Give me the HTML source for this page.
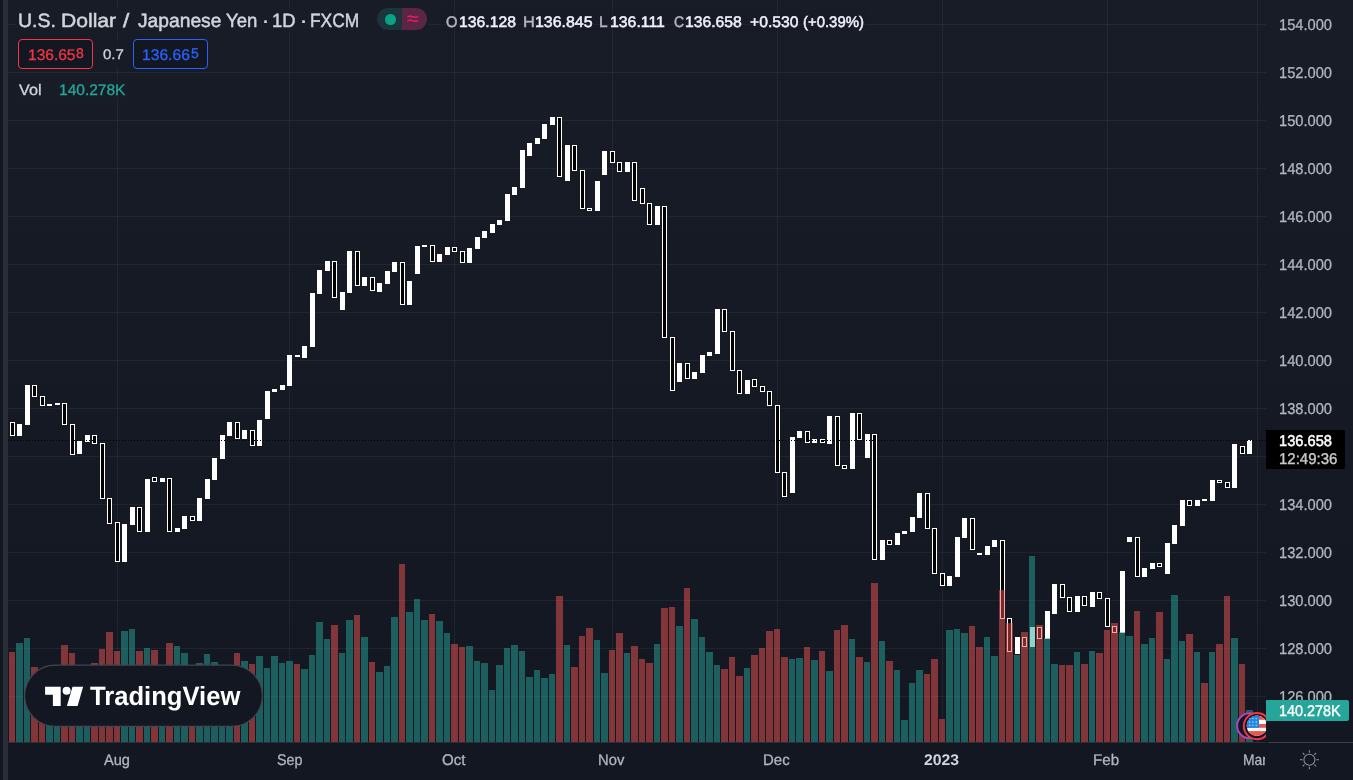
<!DOCTYPE html><html lang="en"><head><meta charset="utf-8"><title>USDJPY chart</title><style>
html,body{margin:0;padding:0;background:#131722}
body{width:1353px;height:780px;overflow:hidden;position:relative;font-family:"Liberation Sans", sans-serif}
.t{position:absolute;white-space:pre;display:block;transform-origin:0 0;text-rendering:geometricPrecision}
.abs{position:absolute}
</style></head><body>
<svg width="1353" height="780" viewBox="0 0 1353 780" shape-rendering="crispEdges" style="position:absolute;left:0;top:0">
<defs><linearGradient id="bg" x1="0" y1="0" x2="0" y2="1"><stop offset="0" stop-color="#181c27"/><stop offset="1" stop-color="#131722"/></linearGradient><clipPath id="pane"><rect x="8" y="0" width="1258" height="742"/></clipPath></defs>
<rect x="0" y="0" width="1353" height="780" fill="url(#bg)"/>
<rect x="0" y="0" width="3" height="780" fill="#131722"/>
<rect x="3" y="0" width="5" height="780" fill="#2a2e39"/>
<path d="M117.5 0V742M289.5 0V742M454.5 0V742M612.5 0V742M777.5 0V742M942.5 0V742M1107.5 0V742M1257.5 0V742" stroke="rgba(240,243,250,0.06)" stroke-width="1" fill="none"/>
<path d="M8 24.5H1266M8 72.5H1266M8 120.5H1266M8 168.5H1266M8 216.5H1266M8 264.5H1266M8 312.5H1266M8 360.5H1266M8 408.5H1266M8 456.5H1266M8 504.5H1266M8 552.5H1266M8 600.5H1266M8 648.5H1266M8 696.5H1266" stroke="rgba(240,243,250,0.06)" stroke-width="1" fill="none"/>
<path d="M10 422h5v14h-5zM17 424h5v12h-5zM25 385h5v40h-5zM32 385h5v12h-5zM40 396h5v10h-5zM47 404h5v2h-5zM55 403h5v2h-5zM62 403h5v22h-5zM70 424h5v31h-5zM77 441h5v13h-5zM85 435h5v7h-5zM92 435h5v9h-5zM100 443h5v56h-5zM107 498h5v26h-5zM115 522h5v40h-5zM122 524h5v38h-5zM130 507h5v18h-5zM137 507h5v25h-5zM145 479h5v53h-5zM152 477h5v5h-5zM160 478h5v4h-5zM167 478h5v54h-5zM175 528h5v4h-5zM182 516h5v13h-5zM190 516h5v5h-5zM197 498h5v23h-5zM205 479h5v20h-5zM212 458h5v22h-5zM220 435h5v24h-5zM227 422h5v14h-5zM235 422h5v17h-5zM242 430h5v9h-5zM250 430h5v16h-5zM257 420h5v26h-5zM265 391h5v28h-5zM272 389h5v3h-5zM280 385h5v5h-5zM287 355h5v31h-5zM295 355h5v2h-5zM302 346h5v12h-5zM310 293h5v54h-5zM317 270h5v24h-5zM325 261h5v10h-5zM332 261h5v37h-5zM340 292h5v18h-5zM347 251h5v42h-5zM355 251h5v35h-5zM362 277h5v9h-5zM370 277h5v14h-5zM377 283h5v9h-5zM385 271h5v13h-5zM392 262h5v10h-5zM400 262h5v43h-5zM407 281h5v24h-5zM415 246h5v28h-5zM422 245h5v2h-5zM430 245h5v17h-5zM437 254h5v8h-5zM445 247h5v8h-5zM452 247h5v5h-5zM460 251h5v12h-5zM467 248h5v15h-5zM475 237h5v12h-5zM482 231h5v7h-5zM490 224h5v9h-5zM497 220h5v5h-5zM505 194h5v27h-5zM512 187h5v8h-5zM520 150h5v38h-5zM527 143h5v13h-5zM535 138h5v6h-5zM542 124h5v15h-5zM550 117h5v8h-5zM557 117h5v60h-5zM565 145h5v36h-5zM572 145h5v26h-5zM580 170h5v39h-5zM587 208h5v3h-5zM595 181h5v30h-5zM602 151h5v24h-5zM610 151h5v12h-5zM617 162h5v10h-5zM625 162h5v10h-5zM632 162h5v39h-5zM640 188h5v16h-5zM647 203h5v22h-5zM655 206h5v19h-5zM662 206h5v132h-5zM670 337h5v54h-5zM677 363h5v19h-5zM685 363h5v16h-5zM692 372h5v7h-5zM700 355h5v18h-5zM707 352h5v4h-5zM715 309h5v45h-5zM722 309h5v23h-5zM730 331h5v40h-5zM737 370h5v24h-5zM745 380h5v14h-5zM752 379h5v8h-5zM760 386h5v6h-5zM767 391h5v15h-5zM775 405h5v68h-5zM782 472h5v25h-5zM790 437h5v56h-5zM797 431h5v7h-5zM805 431h5v12h-5zM812 439h5v4h-5zM820 439h5v4h-5zM827 416h5v28h-5zM835 416h5v50h-5zM842 465h5v4h-5zM850 413h5v56h-5zM857 413h5v27h-5zM865 434h5v24h-5zM872 434h5v126h-5zM880 540h5v20h-5zM887 540h5v5h-5zM895 533h5v12h-5zM902 531h5v3h-5zM910 517h5v15h-5zM917 493h5v25h-5zM925 493h5v36h-5zM932 528h5v46h-5zM940 573h5v13h-5zM947 576h5v10h-5zM955 537h5v40h-5zM962 518h5v20h-5zM970 518h5v32h-5zM977 553h5v2h-5zM985 546h5v9h-5zM992 540h5v7h-5zM1000 540h5v79h-5zM1007 618h5v34h-5zM1015 637h5v17h-5zM1022 637h5v10h-5zM1030 627h5v20h-5zM1037 627h5v12h-5zM1045 611h5v28h-5zM1052 584h5v30h-5zM1060 584h5v14h-5zM1067 597h5v15h-5zM1075 596h5v16h-5zM1082 596h5v10h-5zM1090 592h5v15h-5zM1097 592h5v7h-5zM1105 598h5v29h-5zM1112 626h5v7h-5zM1120 571h5v62h-5zM1127 537h5v5h-5zM1135 537h5v40h-5zM1142 568h5v9h-5zM1150 563h5v6h-5zM1157 563h5v4h-5zM1165 543h5v31h-5zM1172 525h5v19h-5zM1180 500h5v26h-5zM1187 500h5v6h-5zM1195 500h5v6h-5zM1202 499h5v2h-5zM1210 480h5v21h-5zM1217 480h5v3h-5zM1225 482h5v6h-5zM1232 444h5v44h-5zM1240 446h5v8h-5zM1247 440h5v14h-5z" fill="#fff"/>
<path d="M11 423h3v12h-3zM33 386h3v10h-3zM41 397h3v8h-3zM63 404h3v20h-3zM71 425h3v29h-3zM93 436h3v7h-3zM101 444h3v54h-3zM108 499h3v24h-3zM116 523h3v38h-3zM138 508h3v23h-3zM153 478h3v3h-3zM168 479h3v52h-3zM191 517h3v3h-3zM236 423h3v15h-3zM251 431h3v14h-3zM333 262h3v35h-3zM356 252h3v33h-3zM371 278h3v12h-3zM401 263h3v41h-3zM431 246h3v15h-3zM453 248h3v3h-3zM461 252h3v10h-3zM558 118h3v58h-3zM573 146h3v24h-3zM581 171h3v37h-3zM588 209h3v1h-3zM611 152h3v10h-3zM618 163h3v8h-3zM633 163h3v37h-3zM641 189h3v14h-3zM648 204h3v20h-3zM663 207h3v130h-3zM671 338h3v52h-3zM686 364h3v14h-3zM723 310h3v21h-3zM731 332h3v38h-3zM738 371h3v22h-3zM753 380h3v6h-3zM761 387h3v4h-3zM768 392h3v13h-3zM776 406h3v66h-3zM783 473h3v23h-3zM806 432h3v10h-3zM821 440h3v2h-3zM836 417h3v48h-3zM843 466h3v2h-3zM858 414h3v25h-3zM873 435h3v124h-3zM888 541h3v3h-3zM926 494h3v34h-3zM933 529h3v44h-3zM941 574h3v11h-3zM971 519h3v30h-3zM1001 541h3v77h-3zM1008 619h3v32h-3zM1023 638h3v8h-3zM1038 628h3v10h-3zM1061 585h3v12h-3zM1068 598h3v13h-3zM1083 597h3v8h-3zM1098 593h3v5h-3zM1106 599h3v27h-3zM1113 627h3v5h-3zM1136 538h3v38h-3zM1158 564h3v2h-3zM1188 501h3v4h-3zM1218 481h3v1h-3zM1226 483h3v4h-3zM1241 447h3v6h-3z" fill="#000"/>
<g clip-path="url(#pane)"><path d="M16 643h7V742h-7zM24 638h6V742h-6zM46 676h7V742h-7zM54 674h6V742h-6zM76 670h7V742h-7zM84 672h6V742h-6zM121 631h7V742h-7zM129 629h6V742h-6zM144 648h6V742h-6zM159 668h6V742h-6zM174 646h6V742h-6zM181 653h7V742h-7zM196 663h7V742h-7zM204 654h6V742h-6zM211 662h7V742h-7zM219 668h6V742h-6zM226 670h7V742h-7zM241 661h7V742h-7zM256 656h7V742h-7zM264 668h6V742h-6zM271 656h7V742h-7zM279 663h6V742h-6zM286 661h7V742h-7zM301 669h7V742h-7zM309 655h6V742h-6zM316 622h7V742h-7zM324 639h6V742h-6zM339 653h6V742h-6zM346 620h7V742h-7zM361 637h7V742h-7zM376 672h7V742h-7zM384 666h6V742h-6zM391 617h7V742h-7zM406 612h7V742h-7zM414 599h6V742h-6zM421 620h7V742h-7zM436 621h7V742h-7zM444 633h6V742h-6zM466 646h7V742h-7zM474 661h6V742h-6zM481 663h7V742h-7zM489 690h6V742h-6zM496 665h7V742h-7zM504 648h6V742h-6zM511 645h7V742h-7zM519 651h6V742h-6zM526 677h7V742h-7zM534 670h6V742h-6zM541 678h7V742h-7zM549 674h6V742h-6zM564 645h6V742h-6zM594 640h6V742h-6zM601 673h7V742h-7zM624 653h6V742h-6zM654 644h6V742h-6zM676 626h7V742h-7zM691 619h7V742h-7zM699 637h6V742h-6zM706 652h7V742h-7zM714 665h6V742h-6zM744 668h6V742h-6zM789 659h6V742h-6zM796 658h7V742h-7zM811 660h7V742h-7zM826 671h7V742h-7zM849 639h6V742h-6zM864 662h6V742h-6zM879 641h6V742h-6zM894 670h6V742h-6zM901 720h7V742h-7zM909 683h6V742h-6zM916 670h7V742h-7zM946 630h7V742h-7zM954 629h6V742h-6zM961 633h7V742h-7zM984 637h6V742h-6zM991 656h7V742h-7zM1014 655h6V742h-6zM1029 556h6V742h-6zM1044 638h6V742h-6zM1051 664h7V742h-7zM1074 652h6V742h-6zM1089 651h6V742h-6zM1119 632h6V742h-6zM1126 636h7V742h-7zM1141 644h7V742h-7zM1149 638h6V742h-6zM1164 659h6V742h-6zM1171 595h7V742h-7zM1179 641h6V742h-6zM1194 652h6V742h-6zM1209 652h6V742h-6zM1231 638h7V742h-7zM1246 710h7V742h-7z" fill="#26a69a" fill-opacity="0.5"/>
<path d="M9 652h6V742h-6zM31 667h7V742h-7zM39 672h6V742h-6zM61 645h7V742h-7zM69 653h6V742h-6zM91 663h7V742h-7zM99 649h6V742h-6zM106 632h7V742h-7zM114 651h6V742h-6zM136 651h7V742h-7zM151 650h7V742h-7zM166 643h7V742h-7zM189 666h6V742h-6zM234 653h6V742h-6zM249 664h6V742h-6zM294 664h6V742h-6zM331 625h7V742h-7zM354 615h6V742h-6zM369 662h6V742h-6zM399 564h6V742h-6zM429 614h6V742h-6zM451 644h7V742h-7zM459 647h6V742h-6zM556 596h7V742h-7zM571 667h7V742h-7zM579 636h6V742h-6zM586 628h7V742h-7zM609 650h6V742h-6zM616 633h7V742h-7zM631 646h7V742h-7zM639 659h6V742h-6zM646 663h7V742h-7zM661 608h7V742h-7zM669 607h6V742h-6zM684 588h6V742h-6zM721 669h7V742h-7zM729 657h6V742h-6zM736 676h7V742h-7zM751 655h7V742h-7zM759 648h6V742h-6zM766 631h7V742h-7zM774 629h6V742h-6zM781 657h7V742h-7zM804 647h6V742h-6zM819 651h6V742h-6zM834 630h6V742h-6zM841 625h7V742h-7zM856 657h7V742h-7zM871 583h7V742h-7zM886 661h7V742h-7zM924 674h6V742h-6zM931 659h7V742h-7zM939 719h6V742h-6zM969 626h6V742h-6zM976 647h7V742h-7zM999 590h6V742h-6zM1006 623h7V742h-7zM1021 632h7V742h-7zM1036 625h7V742h-7zM1059 665h6V742h-6zM1066 665h7V742h-7zM1081 664h7V742h-7zM1096 653h7V742h-7zM1104 630h6V742h-6zM1111 623h7V742h-7zM1134 611h6V742h-6zM1156 612h7V742h-7zM1186 634h7V742h-7zM1201 683h7V742h-7zM1216 644h7V742h-7zM1224 596h6V742h-6zM1239 664h6V742h-6z" fill="#ef5350" fill-opacity="0.5"/></g>
<path d="M8 440.5H1266" stroke="#000" stroke-width="1" stroke-dasharray="1 2" fill="none"/>
<path d="M8 742.5H1266" stroke="#2a2e39" stroke-width="1" fill="none"/>
<path d="M1268 742.5H1353" stroke="#3c3f4a" stroke-width="1" fill="none"/>
</svg>
<div class="abs s" style="left:16px;top:8px;width:412px;height:24px;background:rgba(24,28,39,0.85)"></div>
<div class="abs s" style="left:440px;top:10px;width:428px;height:21px;background:rgba(24,28,39,0.4)"></div>
<div class="abs s" style="left:16px;top:39px;width:192px;height:30px;background:rgba(24,28,39,0.8)"></div>
<div class="abs s" style="left:16px;top:78px;width:112px;height:22px;background:rgba(24,28,39,0.7)"></div>
<span class="t" id="t1" style="left:18.29px;top:8.81px;font-size:19.3px;line-height:26px;color:#d1d4dc;transform:scale(1.0119,1);transform-origin:0 19.69px;-webkit-text-stroke:0.5px #d1d4dc;">U.S.</span>
<span class="t" id="t2" style="left:61.12px;top:8.81px;font-size:19.3px;line-height:26px;color:#d1d4dc;transform:scale(1.0934,1);transform-origin:0 19.69px;-webkit-text-stroke:0.5px #d1d4dc;">Dollar</span>
<span class="t" id="t3" style="left:123.18px;top:8.81px;font-size:19.3px;line-height:26px;color:#d1d4dc;transform:scale(1.1725,1);transform-origin:0 19.69px;-webkit-text-stroke:0.5px #d1d4dc;">/</span>
<span class="t" id="t4" style="left:137.58px;top:8.81px;font-size:19.3px;line-height:26px;color:#d1d4dc;transform:scale(0.9979,1);transform-origin:0 19.69px;-webkit-text-stroke:0.5px #d1d4dc;">Japanese</span>
<span class="t" id="t5" style="left:226.09px;top:8.81px;font-size:19.3px;line-height:26px;color:#d1d4dc;transform:scale(0.9630,1);transform-origin:0 19.69px;-webkit-text-stroke:0.5px #d1d4dc;">Yen</span>
<span class="t" id="t6" style="left:262.19px;top:8.81px;font-size:19.3px;line-height:26px;color:#d1d4dc;transform:scale(1.0970,1);transform-origin:0 19.69px;-webkit-text-stroke:0.5px #d1d4dc;">·</span>
<span class="t" id="t7" style="left:271.93px;top:8.81px;font-size:19.3px;line-height:26px;color:#d1d4dc;transform:scale(0.9574,1);transform-origin:0 19.69px;-webkit-text-stroke:0.5px #d1d4dc;">1D</span>
<span class="t" id="t8" style="left:300.07px;top:8.81px;font-size:19.3px;line-height:26px;color:#d1d4dc;transform:scale(1.0975,1);transform-origin:0 19.69px;-webkit-text-stroke:0.5px #d1d4dc;">·</span>
<span class="t" id="t9" style="left:309.71px;top:8.81px;font-size:19.3px;line-height:26px;color:#d1d4dc;transform:scale(0.9007,1);transform-origin:0 19.69px;-webkit-text-stroke:0.5px #d1d4dc;">FXCM</span>
<div class="abs s" style="left:377px;top:8px;width:50px;height:22px;border-radius:11px;overflow:hidden"><div class="abs" style="left:0;top:0;width:25px;height:22px;background:#1c343b"></div><div class="abs" style="left:25px;top:0;width:25px;height:22px;background:#5a2643"></div><div class="abs" style="left:8px;top:6px;width:10.6px;height:10.6px;border-radius:50%;background:#08a384"></div></div>
<span class="t" id="approx" style="left:407.34px;top:6.72px;font-size:19px;line-height:25px;color:#e91e63;transform:scale(1.1213,1);transform-origin:0 19.08px;-webkit-text-stroke:0.2px #e91e63;">≈</span>
<span class="t" id="o1" style="left:446.10px;top:13.10px;font-size:15.3px;line-height:20px;color:#b2b5be;transform:scale(0.9620,1);transform-origin:0 15.30px;-webkit-text-stroke:0.5px #b2b5be;">O</span>
<span class="t" id="o2" style="left:458.74px;top:13.10px;font-size:15.3px;line-height:20px;color:#f0f3fa;transform:scale(1.0293,1);transform-origin:0 15.30px;-webkit-text-stroke:0.5px #f0f3fa;">136.128</span>
<span class="t" id="h1" style="left:523.14px;top:13.10px;font-size:15.3px;line-height:20px;color:#b2b5be;transform:scale(1.0746,1);transform-origin:0 15.30px;-webkit-text-stroke:0.5px #b2b5be;">H</span>
<span class="t" id="h2" style="left:534.56px;top:13.10px;font-size:15.3px;line-height:20px;color:#f0f3fa;transform:scale(1.0406,1);transform-origin:0 15.30px;-webkit-text-stroke:0.5px #f0f3fa;">136.845</span>
<span class="t" id="l1" style="left:599.10px;top:13.10px;font-size:15.3px;line-height:20px;color:#b2b5be;transform:scale(1.0104,1);transform-origin:0 15.30px;-webkit-text-stroke:0.5px #b2b5be;">L</span>
<span class="t" id="l2" style="left:609.61px;top:13.10px;font-size:15.3px;line-height:20px;color:#f0f3fa;transform:scale(1.0358,1);transform-origin:0 15.30px;-webkit-text-stroke:0.5px #f0f3fa;">136.111</span>
<span class="t" id="c1" style="left:673.62px;top:13.10px;font-size:15.3px;line-height:20px;color:#b2b5be;transform:scale(0.9115,1);transform-origin:0 15.30px;-webkit-text-stroke:0.5px #b2b5be;">C</span>
<span class="t" id="c2" style="left:685.11px;top:13.10px;font-size:15.3px;line-height:20px;color:#f0f3fa;transform:scale(1.0282,1);transform-origin:0 15.30px;-webkit-text-stroke:0.5px #f0f3fa;">136.658</span>
<span class="t" id="chg" style="left:749.68px;top:13.10px;font-size:15.3px;line-height:20px;color:#f0f3fa;transform:scale(1.0255,1);transform-origin:0 15.30px;-webkit-text-stroke:0.5px #f0f3fa;">+0.530</span>
<span class="t" id="pct" style="left:803.08px;top:13.10px;font-size:15.3px;line-height:20px;color:#f0f3fa;transform:scale(0.9752,1);transform-origin:0 15.30px;-webkit-text-stroke:0.5px #f0f3fa;">(+0.39%)</span>
<div class="abs s" style="left:18px;top:39px;width:73px;height:28px;border:1px solid #f23645;border-radius:4px;background:#131722"></div>
<div class="abs s" style="left:133px;top:39px;width:73px;height:28px;border:1px solid #2962ff;border-radius:4px;background:#131722"></div>
<span class="t" id="bid" style="left:27.98px;top:45.26px;font-size:15.4px;line-height:21px;color:#f23645;transform:scale(1.0089,1);transform-origin:0 15.84px;-webkit-text-stroke:0.3px #f23645;">136.65</span>
<span class="t" id="bid2" style="left:76.27px;top:45.28px;font-size:14.2px;line-height:19px;color:#f23645;transform:scale(0.9859,1);transform-origin:0 14.42px;-webkit-text-stroke:0.3px #f23645;">8</span>
<span class="t" id="spr" style="left:102.68px;top:46.12px;font-size:13.8px;line-height:18px;color:#d1d4dc;transform:scale(1.0853,1);transform-origin:0 13.78px;-webkit-text-stroke:0.3px #d1d4dc;">0.7</span>
<span class="t" id="ask" style="left:142.34px;top:45.26px;font-size:15.4px;line-height:21px;color:#2962ff;transform:scale(1.0159,1);transform-origin:0 15.84px;-webkit-text-stroke:0.3px #2962ff;">136.66</span>
<span class="t" id="ask2" style="left:190.80px;top:45.28px;font-size:14.2px;line-height:19px;color:#2962ff;transform:scale(0.9883,1);transform-origin:0 14.42px;-webkit-text-stroke:0.3px #2962ff;">5</span>
<span class="t" id="vol" style="left:19.00px;top:81.10px;font-size:15.3px;line-height:20px;color:#d1d4dc;transform:scale(1.0576,1);transform-origin:0 15.30px;-webkit-text-stroke:0.3px #d1d4dc;">Vol</span>
<span class="t" id="volv" style="left:58.54px;top:81.10px;font-size:15.3px;line-height:20px;color:#26a69a;transform:scale(1.0145,1);transform-origin:0 15.30px;-webkit-text-stroke:0.3px #26a69a;">140.278K</span>
<span class="t" id="p0" style="left:1279.49px;top:14.69px;font-size:15.6px;line-height:21px;color:#b2b5be;transform:scale(0.9406,1);transform-origin:0 15.91px;-webkit-text-stroke:0.3px #b2b5be;">154.000</span>
<span class="t" id="p1" style="left:1279.49px;top:62.69px;font-size:15.6px;line-height:21px;color:#b2b5be;transform:scale(0.9406,1);transform-origin:0 15.91px;-webkit-text-stroke:0.3px #b2b5be;">152.000</span>
<span class="t" id="p2" style="left:1279.49px;top:110.69px;font-size:15.6px;line-height:21px;color:#b2b5be;transform:scale(0.9406,1);transform-origin:0 15.91px;-webkit-text-stroke:0.3px #b2b5be;">150.000</span>
<span class="t" id="p3" style="left:1279.49px;top:158.69px;font-size:15.6px;line-height:21px;color:#b2b5be;transform:scale(0.9406,1);transform-origin:0 15.91px;-webkit-text-stroke:0.3px #b2b5be;">148.000</span>
<span class="t" id="p4" style="left:1279.49px;top:206.69px;font-size:15.6px;line-height:21px;color:#b2b5be;transform:scale(0.9406,1);transform-origin:0 15.91px;-webkit-text-stroke:0.3px #b2b5be;">146.000</span>
<span class="t" id="p5" style="left:1279.49px;top:254.69px;font-size:15.6px;line-height:21px;color:#b2b5be;transform:scale(0.9406,1);transform-origin:0 15.91px;-webkit-text-stroke:0.3px #b2b5be;">144.000</span>
<span class="t" id="p6" style="left:1279.49px;top:302.69px;font-size:15.6px;line-height:21px;color:#b2b5be;transform:scale(0.9406,1);transform-origin:0 15.91px;-webkit-text-stroke:0.3px #b2b5be;">142.000</span>
<span class="t" id="p7" style="left:1279.49px;top:350.69px;font-size:15.6px;line-height:21px;color:#b2b5be;transform:scale(0.9406,1);transform-origin:0 15.91px;-webkit-text-stroke:0.3px #b2b5be;">140.000</span>
<span class="t" id="p8" style="left:1279.49px;top:398.69px;font-size:15.6px;line-height:21px;color:#b2b5be;transform:scale(0.9406,1);transform-origin:0 15.91px;-webkit-text-stroke:0.3px #b2b5be;">138.000</span>
<span class="t" id="p9" style="left:1279.36px;top:446.69px;font-size:15.6px;line-height:21px;color:#b2b5be;transform:scale(0.9418,1);transform-origin:0 15.91px;-webkit-text-stroke:0.3px #b2b5be;">136.000</span>
<span class="t" id="p10" style="left:1279.49px;top:494.69px;font-size:15.6px;line-height:21px;color:#b2b5be;transform:scale(0.9406,1);transform-origin:0 15.91px;-webkit-text-stroke:0.3px #b2b5be;">134.000</span>
<span class="t" id="p11" style="left:1279.49px;top:542.69px;font-size:15.6px;line-height:21px;color:#b2b5be;transform:scale(0.9406,1);transform-origin:0 15.91px;-webkit-text-stroke:0.3px #b2b5be;">132.000</span>
<span class="t" id="p12" style="left:1279.49px;top:590.69px;font-size:15.6px;line-height:21px;color:#b2b5be;transform:scale(0.9406,1);transform-origin:0 15.91px;-webkit-text-stroke:0.3px #b2b5be;">130.000</span>
<span class="t" id="p13" style="left:1279.49px;top:638.69px;font-size:15.6px;line-height:21px;color:#b2b5be;transform:scale(0.9406,1);transform-origin:0 15.91px;-webkit-text-stroke:0.3px #b2b5be;">128.000</span>
<span class="t" id="p14" style="left:1279.49px;top:686.69px;font-size:15.6px;line-height:21px;color:#b2b5be;transform:scale(0.9406,1);transform-origin:0 15.91px;-webkit-text-stroke:0.3px #b2b5be;">126.000</span>
<div class="abs s" style="left:1266px;top:700px;width:83px;height:21px;background:#26a69a;border-radius:0 2px 2px 0"></div>
<span class="t" id="vlab" style="left:1279.02px;top:701.09px;font-size:15.6px;line-height:21px;color:#ffffff;transform:scale(0.9240,1);transform-origin:0 15.91px;-webkit-text-stroke:0.4px #ffffff;">140.278K</span>
<div class="abs s" style="left:1266px;top:430px;width:79px;height:39px;background:#000;border-radius:0 2px 2px 0"></div>
<span class="t" id="plab" style="left:1279.18px;top:430.89px;font-size:15.6px;line-height:21px;color:#ffffff;transform:scale(0.9405,1);transform-origin:0 15.91px;-webkit-text-stroke:0.5px #ffffff;">136.658</span>
<span class="t" id="ptime" style="left:1278.98px;top:448.99px;font-size:15.6px;line-height:21px;color:#c8c8c8;transform:scale(0.9623,1);transform-origin:0 15.91px;-webkit-text-stroke:0.4px #c8c8c8;">12:49:36</span>
<span class="t" id="mAug" style="left:104.15px;top:749.86px;font-size:15.4px;line-height:21px;color:#b2b5be;transform:scale(0.9490,1);transform-origin:0 15.84px;-webkit-text-stroke:0.3px #b2b5be;">Aug</span>
<span class="t" id="mSep" style="left:276.73px;top:749.86px;font-size:15.4px;line-height:21px;color:#b2b5be;transform:scale(0.9273,1);transform-origin:0 15.84px;-webkit-text-stroke:0.3px #b2b5be;">Sep</span>
<span class="t" id="mOct" style="left:442.14px;top:749.86px;font-size:15.4px;line-height:21px;color:#b2b5be;transform:scale(0.9822,1);transform-origin:0 15.84px;-webkit-text-stroke:0.3px #b2b5be;">Oct</span>
<span class="t" id="mNov" style="left:598.44px;top:749.86px;font-size:15.4px;line-height:21px;color:#b2b5be;transform:scale(0.9601,1);transform-origin:0 15.84px;-webkit-text-stroke:0.3px #b2b5be;">Nov</span>
<span class="t" id="mDec" style="left:762.98px;top:749.86px;font-size:15.4px;line-height:21px;color:#b2b5be;transform:scale(0.9733,1);transform-origin:0 15.84px;-webkit-text-stroke:0.3px #b2b5be;">Dec</span>
<span class="t" id="mFeb" style="left:1092.89px;top:749.86px;font-size:15.4px;line-height:21px;color:#b2b5be;transform:scale(0.9835,1);transform-origin:0 15.84px;-webkit-text-stroke:0.3px #b2b5be;">Feb</span>
<span class="t" id="m2023" style="left:924.18px;top:749.86px;font-size:15.4px;line-height:21px;color:#d1d4dc;font-weight:700;transform:scale(1.0260,1);transform-origin:0 15.84px;">2023</span>
<div class="abs" style="left:0;top:743px;width:1265px;height:37px;overflow:hidden"><span class="t" id="mMar" style="left:1243.28px;top:6.86px;font-size:15.4px;line-height:21px;color:#b2b5be;transform:scale(0.9023,1);transform-origin:0 15.84px;-webkit-text-stroke:0.3px #b2b5be;">Mar</span></div>
<svg class="abs s" style="left:1296px;top:746px" width="26" height="26" viewBox="-13.4 -13.7 26 26" fill="none" stroke="#8c8f99" stroke-width="1.1" shape-rendering="geometricPrecision"><circle cx="0" cy="0" r="5.5"/><line x1="7.00" y1="0.00" x2="9.50" y2="0.00"/><line x1="4.95" y1="4.95" x2="6.72" y2="6.72"/><line x1="0.00" y1="7.00" x2="0.00" y2="9.50"/><line x1="-4.95" y1="4.95" x2="-6.72" y2="6.72"/><line x1="-7.00" y1="0.00" x2="-9.50" y2="0.00"/><line x1="-4.95" y1="-4.95" x2="-6.72" y2="-6.72"/><line x1="-0.00" y1="-7.00" x2="-0.00" y2="-9.50"/><line x1="4.95" y1="-4.95" x2="6.72" y2="-6.72"/></svg>
<div class="abs s" style="left:8px;top:0;width:1258px;height:742px;overflow:hidden;pointer-events:none"><svg class="abs" style="left:1222px;top:706px" width="50" height="40" viewBox="1230 706 50 40" shape-rendering="geometricPrecision"><circle cx="1249.5" cy="725.7" r="12.4" fill="#131722" stroke="#ab47bc" stroke-width="2"/><circle cx="1256.9" cy="726.1" r="13.1" fill="#131722" stroke="#f23645" stroke-width="2"/><clipPath id="fc"><circle cx="1256.9" cy="725.8" r="10.2"/></clipPath><g clip-path="url(#fc)"><rect x="1246" y="715" width="22" height="22" fill="#fff"/><rect x="1246" y="715" width="22" height="4.8" fill="#ef5350"/><rect x="1246" y="724" width="22" height="3.8" fill="#ef5350"/><rect x="1246" y="731.1" width="22" height="6" fill="#ef5350"/><rect x="1246" y="715" width="13" height="12.8" fill="#1e88e5"/><circle cx="1249.7" cy="718.6" r="0.65" fill="#fff" fill-opacity="0.85"/><circle cx="1249.7" cy="722.0" r="0.65" fill="#fff" fill-opacity="0.85"/><circle cx="1249.7" cy="725.2" r="0.65" fill="#fff" fill-opacity="0.85"/><circle cx="1252.9" cy="718.6" r="0.65" fill="#fff" fill-opacity="0.85"/><circle cx="1252.9" cy="722.0" r="0.65" fill="#fff" fill-opacity="0.85"/><circle cx="1252.9" cy="725.2" r="0.65" fill="#fff" fill-opacity="0.85"/><circle cx="1256.2" cy="718.6" r="0.65" fill="#fff" fill-opacity="0.85"/><circle cx="1256.2" cy="722.0" r="0.65" fill="#fff" fill-opacity="0.85"/><circle cx="1256.2" cy="725.2" r="0.65" fill="#fff" fill-opacity="0.85"/></g></svg></div>
<svg class="abs s" style="left:20px;top:660px" width="250" height="72" viewBox="20 660 250 72" shape-rendering="geometricPrecision"><rect x="24.6" y="665.05" width="237.8" height="61.3" rx="30.65" fill="#131722" stroke="#434651" stroke-width="1.2"/></svg>
<svg class="abs s" style="left:40px;top:680px" width="50" height="32" viewBox="40 680 50 32" shape-rendering="geometricPrecision"><path fill="#fff" d="M45.1 686.8H60.7V705.9H52.9V694.8H45.1z"/><circle cx="66.6" cy="690.8" r="4.0" fill="#fff"/><path fill="#fff" d="M72.5 686.8H83.1L77.6 705.9H66.9z"/></svg>
<span class="t" id="logo" style="left:89.65px;top:679.25px;font-size:26.4px;line-height:35px;color:#ffffff;font-weight:700;transform:scale(0.9702,1);transform-origin:0 26.65px;">TradingView</span>
</body></html>
